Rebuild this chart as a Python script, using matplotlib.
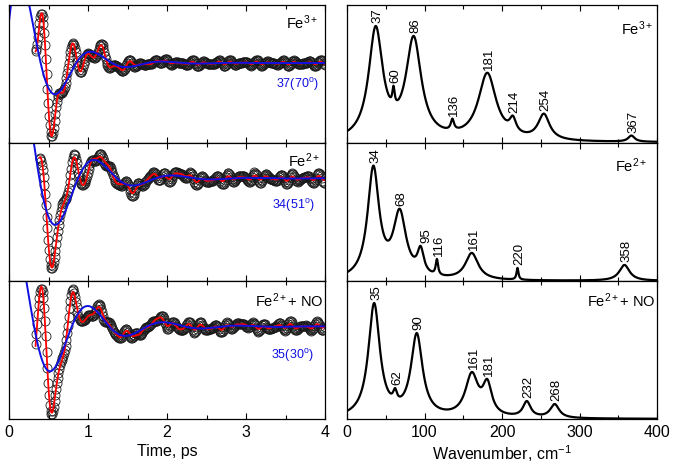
import numpy as np
import matplotlib
matplotlib.use("Agg")
import matplotlib.pyplot as plt
from matplotlib.ticker import MultipleLocator

plt.rcParams['font.family'] = ['Liberation Sans', 'DejaVu Sans']
plt.rcParams['mathtext.fontset'] = 'custom'
plt.rcParams['mathtext.rm'] = 'Liberation Sans'
plt.rcParams['mathtext.it'] = 'Liberation Sans:italic'
plt.rcParams['mathtext.default'] = 'regular'

C = 0.0299792458  # speed of light, cm/ps

labels = ['Fe$^{3+}$', 'Fe$^{2+}$', 'Fe$^{2+}$+ NO']

# --- time domain: damped cosine modes (cm-1, amplitude, damping ps, phase deg)
fit_freq = [[37, 60, 86, 181], [34, 68, 95, 161], [35, 62, 90, 161, 181]]
fit_amp = [[147.18, 122.13, 115.84, 84.69], [121.04, 49.07, 40.76, 69.67],
           [109.75, 7.78, 138.76, 56.67, 11.73]]
fit_tau = [[0.4, 0.15, 0.4, 0.4], [0.6, 0.6, 0.6, 0.4], [0.6, 1.6, 0.4, 0.4, 1.0]]
fit_phase = [[64.9, -8.0, 0.3, 132.9], [42.8, -153.3, 77.6, 21.5],
             [29.3, 171.0, 43.3, 19.2, 92.9]]
data_start = [0.336, 0.387, 0.336]

# small residual wiggle of the measured points
ripple_freq = [205, 290]
ripple_amp = [[2.0, 1.2], [3.5, 2.0], [3.0, 1.8]]

# single mode fit (blue)
single_freq = [37, 34, 35]
single_phase = [70, 51, 30]
single_amp = [122.0, 147.0, 108.0]
single_tau = [0.443, 0.528, 0.61]

# --- spectra: peak positions (cm-1), heights, half widths
peaks = [[37, 60, 86, 136, 181, 214, 254, 367],
         [34, 68, 95, 116, 161, 220, 358],
         [35, 62, 90, 161, 181, 232, 268]]
heights = [[117, 57, 107, 24, 70, 27, 29, 7],
           [115, 72, 35, 22, 28, 13, 16],
           [116, 31, 86, 47, 40, 18, 15]]
widths = [[11, 1.8, 12, 2.5, 14, 5, 9, 5],
          [9, 10, 5, 1.8, 10, 1.5, 8],
          [9, 3, 9, 10, 7, 6, 7]]


def modes(t, freqs, amps, taus, phases):
    y = np.zeros_like(t)
    for nu, a, tau, ph in zip(freqs, amps, taus, phases):
        y += a * np.exp(-t / tau) * np.cos(2 * np.pi * C * nu * t - np.radians(ph))
    return y


def lorentz(x, x0, g):
    return g**2 / ((x - x0)**2 + g**2)


W, H = 675, 467
rows = [(5, 142.5), (142.5, 281), (281, 419)]
left_ylim = [(-79.5, 58), (-102.7, 35.8), (-92.5, 45.5)]
label_pos_l = [(0.978, 0.823), (0.984, 0.825), (0.995, 0.814)]
label_pos_r = [(0.987, 0.782), (0.967, 0.789), (0.994, 0.814)]
blue_pos = [(0.981, 0.394), (0.968, 0.518), (0.965, 0.433)]
lab_dx = {95: 7}

fig = plt.figure(figsize=(6.75, 4.67), dpi=100)

for i in range(3):
    y0, y1 = rows[i]
    axl = fig.add_axes([9 / W, 1 - y1 / H, 316 / W, (y1 - y0) / H])
    axr = fig.add_axes([347 / W, 1 - y1 / H, 310 / W, (y1 - y0) / H])

    # left: time domain
    t = np.arange(data_start[i], 4.0, 0.01)
    fit = modes(t, fit_freq[i], fit_amp[i], fit_tau[i], fit_phase[i])
    rip = np.zeros_like(t)
    for nu, a in zip(ripple_freq, ripple_amp[i]):
        rip += a * np.sin(2 * np.pi * C * nu * t + i)
    axl.plot(t, fit + rip, 'o', ms=6.5, mfc='none', mec='0.1', mew=0.6)
    axl.plot(t, fit + 0.4 * rip, color='red', lw=1.3)
    tb = np.linspace(0, 4, 800)
    blue = modes(tb, [single_freq[i]], [single_amp[i]], [single_tau[i]], [single_phase[i]])
    axl.plot(tb, blue, color='#1010e0', lw=1.4)
    axl.set_xlim(0, 4)
    axl.set_ylim(*left_ylim[i])
    axl.set_yticks([])
    axl.xaxis.set_major_locator(MultipleLocator(1))
    axl.xaxis.set_minor_locator(MultipleLocator(0.5))
    axl.text(*label_pos_l[i], labels[i], transform=axl.transAxes,
             ha='right', va='baseline', fontsize=10.5)
    axl.text(*blue_pos[i], '%d(%d$^o$)' % (single_freq[i], single_phase[i]),
             transform=axl.transAxes, ha='right', va='baseline', fontsize=9,
             color='#1010e0')

    # right: spectra
    pk = np.array(peaks[i], float)
    g = np.array(widths[i], float)
    M = np.array([[lorentz(p, pk[j], g[j]) for j in range(len(pk))] for p in pk])
    comp = np.linalg.solve(M, np.array(heights[i], float))
    x = np.linspace(0, 400, 2001)
    spec = sum(comp[j] * lorentz(x, pk[j], g[j]) for j in range(len(pk)))
    axr.plot(x, spec, color='black', lw=1.6)
    for p, h in zip(peaks[i], heights[i]):
        axr.text(p + lab_dx.get(p, 2.5), h + 3, str(p), rotation=90,
                 ha='center', va='bottom', fontsize=9.5)
    axr.set_xlim(0, 400)
    axr.set_ylim(0, 138)
    axr.set_yticks([])
    axr.xaxis.set_major_locator(MultipleLocator(100))
    axr.xaxis.set_minor_locator(MultipleLocator(50))
    axr.text(*label_pos_r[i], labels[i], transform=axr.transAxes,
             ha='right', va='baseline', fontsize=10.5)

    for ax in (axl, axr):
        for s in ax.spines.values():
            s.set_linewidth(0.9)
        ax.tick_params(axis='x', which='both', direction='in', top=True,
                       width=0.8, pad=4, labelsize=11.5)
        ax.tick_params(axis='x', which='major', length=4)
        ax.tick_params(axis='x', which='minor', length=3)
        if i < 2:
            ax.tick_params(axis='x', which='both', labelbottom=False)

    if i == 2:
        axl.set_xlabel('Time, ps', fontsize=11.5, labelpad=3)
        axr.set_xlabel('Wavenumber, cm$^{-1}$', fontsize=11.5, labelpad=3)

fig.savefig('out.png', dpi=100)
